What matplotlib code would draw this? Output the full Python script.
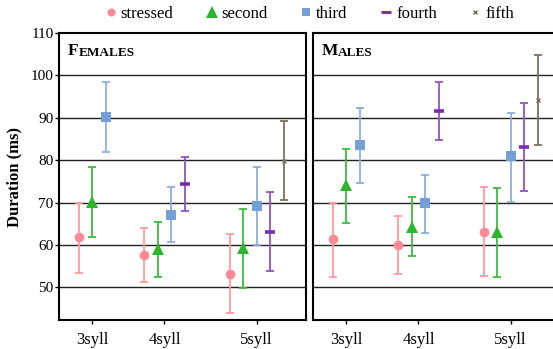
import numpy as np
import matplotlib
matplotlib.use('Agg')
import matplotlib.pyplot as plt
from matplotlib.lines import Line2D

plt.rcParams['font.family'] = ['Liberation Serif', 'DejaVu Serif']

groups = ['3syll', '4syll', '5syll']
series = ['stressed', 'second', 'third', 'fourth', 'fifth']

# mean, upper, lower for each syllable group (None where missing)
fem_mean = [[61.9, 70.2, 90.3], [57.6, 59.1, 67.1, 74.4], [53.1, 59.2, 69.3, 63.1, 79.9]]
fem_hi = [[70.0, 78.4, 98.4], [64.1, 65.4, 73.6, 80.8], [62.6, 68.5, 78.5, 72.5, 89.2]]
fem_lo = [[53.5, 61.9, 81.9], [51.3, 52.4, 60.7, 67.9], [43.9, 49.8, 59.9, 53.8, 70.5]]

mal_mean = [[61.3, 74.1, 83.7], [60.0, 64.3, 69.8, 91.7], [63.1, 63.1, 80.9, 83.2, 94.2]]
mal_hi = [[69.9, 82.7, 92.2], [66.9, 71.2, 76.6, 98.5], [73.6, 73.4, 91.1, 93.6, 104.7]]
mal_lo = [[52.5, 65.3, 74.7], [53.1, 57.3, 62.8, 84.8], [52.7, 52.5, 70.2, 72.8, 83.7]]

colors = ['#FF8A94', '#2DB52D', '#74A0D6', '#7B2DB3', '#77735A']
bar_colors = ['#FF99A2', '#3DBD3D', '#8AB0DE', '#9552C4', '#77735A']
markers = ['o', '^', 's', '_', 'x']
msizes = [7, 8.5, 7, 7.7, 3]
mews = [0, 0, 0, 2.6, 1.0]

cat_pos = [0, 1, 2.28]
dodge = 0.1875

fig = plt.figure(figsize=(5.53, 3.49), dpi=100)
ax1 = fig.add_axes([0.1067, 0.0831, 0.4458, 0.8223])
ax2 = fig.add_axes([0.566, 0.0831, 0.4458, 0.8223])


def draw(ax, means, his, los, title):
    for gi, g in enumerate(groups):
        n = len(means[gi])
        for si in range(n):
            x = cat_pos[gi] + (si - (n - 1) / 2) * dodge
            m = means[gi][si]
            ax.errorbar([x], [m], yerr=[[m - los[gi][si]], [his[gi][si] - m]],
                        fmt='none', ecolor=bar_colors[si], elinewidth=1.3,
                        capsize=2.8, capthick=1.3, zorder=3)
            ax.plot([x], [m], marker=markers[si], color=colors[si], ms=msizes[si],
                    mew=mews[si], linestyle='none', zorder=4)
    for yv in range(50, 101, 10):
        ax.axhline(yv, color='#222222', lw=1.0, zorder=1)
    ax.set_ylim(42.3, 110)
    ax.set_xlim(-0.465, 2.959)
    ax.set_xticks(cat_pos)
    ax.set_xticklabels(groups, fontsize=12)
    ax.tick_params(axis='x', length=3, width=1, pad=6)
    for s in ax.spines.values():
        s.set_linewidth(1.5)
    # small caps title
    t1 = ax.text(0.035, 0.965, title[0], transform=ax.transAxes, fontsize=12.5,
                 fontweight='bold', va='top', ha='left')
    ax.annotate(title[1:].upper(), xy=(1, 0), xycoords=t1, fontsize=9.5,
                fontweight='bold', va='bottom', ha='left')


draw(ax1, fem_mean, fem_hi, fem_lo, 'Females')
draw(ax2, mal_mean, mal_hi, mal_lo, 'Males')

ax1.set_yticks(range(50, 111, 10))
ax1.tick_params(axis='y', labelsize=11, length=3, width=1, pad=1)
ax1.set_ylabel('Duration (ms)', fontsize=12, fontweight='bold', labelpad=6)
ax2.set_yticks([])

handles = []
leg_ms = [5.8, 8.5, 5.8, 7.2, 3]
leg_mew = [0, 0, 0, 2.2, 1.0]
for si, s in enumerate(series):
    handles.append(Line2D([], [], marker=markers[si], color=colors[si], ms=leg_ms[si],
                          mew=leg_mew[si], linestyle='none', label=s))
fig.legend(handles=handles, loc='center', bbox_to_anchor=(0.557, 0.96), ncol=5,
           frameon=False, fontsize=12, handletextpad=0.1, columnspacing=1.8,
           handlelength=1.0)

fig.savefig('out.png', dpi=100)
